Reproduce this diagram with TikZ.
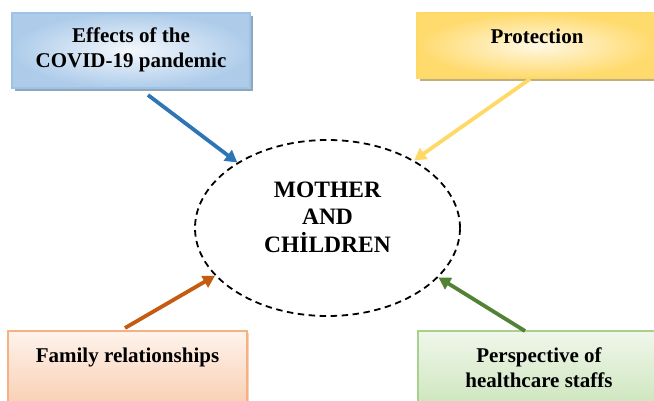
\documentclass[tikz,border=0pt]{standalone}
\usepackage{fontspec}
\setmainfont{Liberation Serif}
\usetikzlibrary{arrows.meta,shadows,shapes.geometric}

\begin{document}
\begin{tikzpicture}[x=1pt,y=-1pt,
  topic/.style={rectangle,line width=1.3pt,inner sep=0pt},
  boxtext/.style={font=\fontsize{21}{25}\selectfont\bfseries,align=center},
  hubtext/.style={font=\fontsize{23.5}{27.5}\selectfont\bfseries,align=center},
  hub/.style={ellipse,draw,line width=1.8pt,dash pattern=on 6.5pt off 4.5pt,minimum width=265,minimum height=176},
  arr/.style={line width=3.8pt,-{Triangle[length=12pt,width=13pt]}}]
\definecolor{bluearrow}{HTML}{2E75B6}
\definecolor{yellowarrow}{HTML}{FFD966}
\definecolor{orangearrow}{HTML}{C55A11}
\definecolor{greenarrow}{HTML}{548235}
\definecolor{blueedge}{HTML}{9DC3E6}
\definecolor{bluedark}{HTML}{AECCEA}
\definecolor{bluelight}{HTML}{F4F8FC}
\definecolor{blueshadow}{HTML}{8FA6BD}
\definecolor{yellowedge}{HTML}{FFD966}
\definecolor{yellowdark}{HTML}{FFDA6C}
\definecolor{yellowlight}{HTML}{FFF8E4}
\definecolor{yellowshadow}{HTML}{BFAE80}
\definecolor{orangeedge}{HTML}{F4B183}
\definecolor{orangetop}{HTML}{FEF3EC}
\definecolor{orangebottom}{HTML}{F8CCAE}
\definecolor{greenedge}{HTML}{A9D18E}
\definecolor{greentop}{HTML}{F0F7EB}
\definecolor{greenbottom}{HTML}{CBE4BA}
\clip (0,0) rectangle (654,400);
% the four topics
\node[topic,draw=blueedge,inner color=bluelight,outer color=bluedark,
  drop shadow={shadow xshift=2.5pt,shadow yshift=-2.5pt,fill=blueshadow,opacity=1},
  minimum width=238,minimum height=75,
  label={[boxtext,name=effects-text,yshift=1pt]center:Effects of the\\COVID-19 pandemic}]
  (effects) at (131,50.5) {};
\node[topic,draw=yellowedge,inner color=yellowlight,outer color=yellowdark,
  drop shadow={shadow xshift=2.5pt,shadow yshift=-2.5pt,fill=yellowshadow,opacity=1},
  minimum width=240,minimum height=65,
  label={[boxtext,name=protection-text,yshift=9.5pt]center:Protection}]
  (protection) at (537,45.5) {};
\node[topic,draw=orangeedge,top color=orangetop,bottom color=orangebottom,
  drop shadow={shadow xshift=2pt,shadow yshift=-2pt,fill=orangeedge!60,opacity=1},
  minimum width=239,minimum height=80,
  label={[boxtext,name=family-text,yshift=14pt]center:Family relationships}]
  (family) at (127.5,371) {};
\node[topic,draw=greenedge,top color=greentop,bottom color=greenbottom,
  minimum width=242,minimum height=80,
  label={[boxtext,name=staff-text,yshift=3.5pt]center:Perspective of\\healthcare staffs}]
  (staff) at (539,371) {};
% centre
\node[hub,label={[hubtext,name=mc-text,yshift=11pt]center:MOTHER\\AND\\CHİLDREN}] (mc) at (327.5,228) {};
% arrows
\coordinate (effects-tail) at (148,95);
\coordinate (protection-tail) at (530,79);
\coordinate (family-tail) at (125,328);
\coordinate (staff-tail) at (525,331);
\foreach \from/\ang/\clr in {effects-tail/144/bluearrow,protection-tail/38/yellowarrow,family-tail/203/orangearrow,staff-tail/336/greenarrow}
  {\draw[arr,\clr] (\from) -- (mc.\ang);}
\end{tikzpicture}
\end{document}
